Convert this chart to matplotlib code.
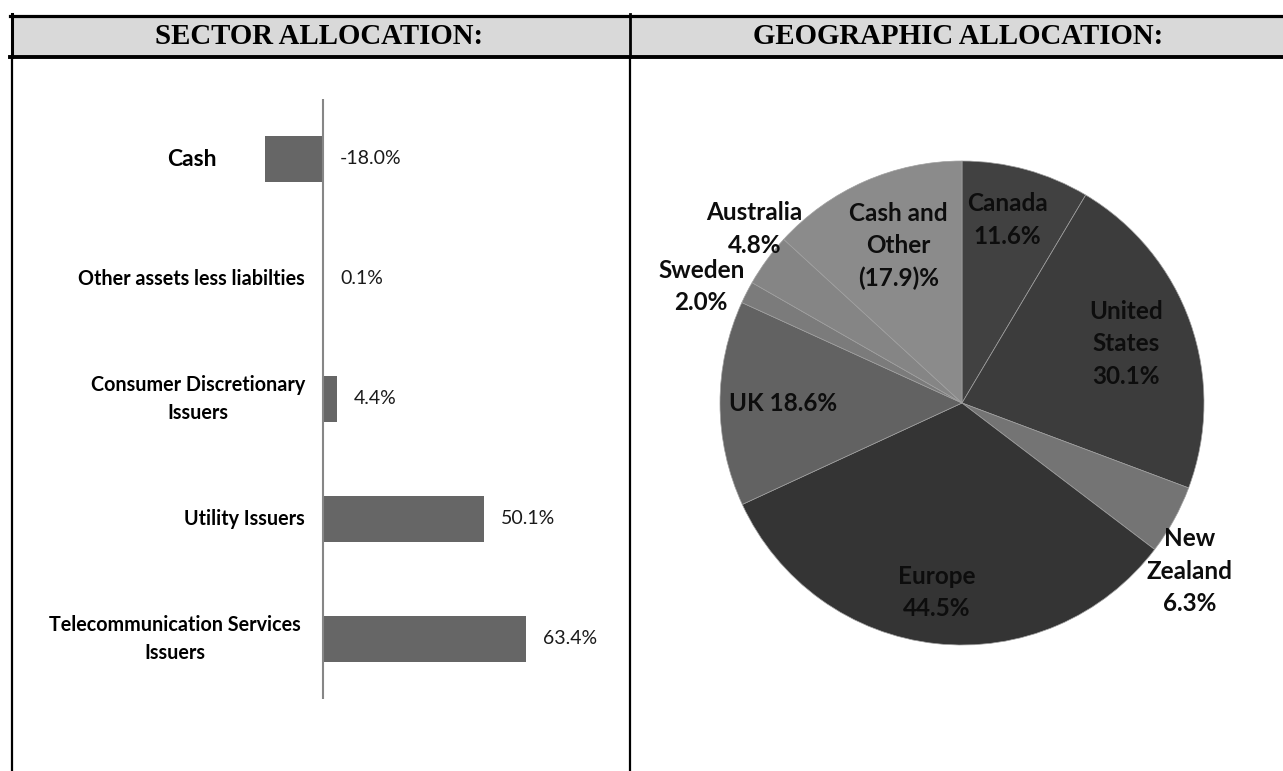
import numpy as np
import matplotlib.pyplot as plt
from matplotlib.patches import Rectangle
from matplotlib.transforms import blended_transform_factory

# sector allocation (bar chart)
sectors = ["Cash", "Other assets less liabilties", "Consumer Discretionary\nIssuers",
           "Utility Issuers", "Telecommunication Services\nIssuers"]
sector_vals = [-18.0, 0.1, 4.4, 50.1, 63.4]

# geographic allocation (pie)
regions = ["Canada", "United\nStates", "New\nZealand", "Europe", "UK",
           "Sweden", "Australia", "Cash and\nOther"]
region_vals = [11.6, 30.1, 6.3, 44.5, 18.6, 2.0, 4.8, -17.9]
region_colors = ["#414141", "#3c3c3c", "#747474", "#343434", "#626262",
                 "#7b7b7b", "#858585", "#8b8b8b"]

W, H = 1283, 771
fig = plt.figure(figsize=(W / 100, H / 100), dpi=100)
plt.rcParams['font.family'] = ['Lato', 'DejaVu Sans']

# table frame drawn in pixel coords
bg = fig.add_axes([0, 0, 1, 1], zorder=0)
bg.set_xlim(0, W)
bg.set_ylim(H, 0)
bg.axis('off')
bg.add_patch(Rectangle((11, 16), W, 40, facecolor='#d9d9d9', edgecolor='none'))
bg.plot([10, W], [15.5, 15.5], color='k', lw=2.3)
bg.plot([10, W], [57, 57], color='k', lw=2.8)
bg.plot([11.5, 11.5], [14, 57], color='k', lw=2.2)
bg.plot([630, 630], [14, 57], color='k', lw=2.0)
bg.plot([11.5, 11.5], [57, H], color='k', lw=1.6)
bg.plot([630, 630], [57, H], color='k', lw=1.6)
bg.text(319, 37, "SECTOR ALLOCATION:", ha='center', va='center',
        family='Liberation Serif', weight='bold', fontsize=20.8)
bg.text(958, 37, "GEOGRAPHIC ALLOCATION:", ha='center', va='center',
        family='Liberation Serif', weight='bold', fontsize=20.8)

# bar chart
x0, x1, zero, scale = 250, 600, 322.7, 3.21
ax = fig.add_axes([x0 / W, 72 / H, (x1 - x0) / W, 600 / H], zorder=1)
ax.patch.set_alpha(0)
y = np.arange(len(sectors))
ax.barh(y, sector_vals, height=0.39, color='#666666')
ax.set_xlim((x0 - zero) / scale, (x1 - zero) / scale)
ax.set_ylim(len(sectors) - 0.5, -0.5)
for s in ax.spines.values():
    s.set_visible(False)
ax.set_xticks([])
ax.set_yticks([])
ax.axvline(0, color='#868686', lw=1.5)

for i, v in enumerate(sector_vals):
    ax.annotate(f"{v:.1f}%", xy=(max(v, 0), i), xytext=(17, 0),
                textcoords='offset pixels', ha='left', va='center',
                fontsize=14, color='#1a1a1a')

tr = blended_transform_factory(ax.transAxes, ax.transData)
for i, lab in enumerate(sectors):
    if lab == "Cash":
        ax.text((192 - x0) / (x1 - x0), i, lab, transform=tr, ha='center',
                va='center', fontsize=16.5, weight='bold')
    else:
        xr = 301 if lab.startswith("Tele") else 305
        ax.text((xr - x0) / (x1 - x0), i, lab, transform=tr, ha='right',
                va='center', multialignment='center', fontsize=14.2,
                weight='bold', linespacing=1.5)

# pie chart
cx, cy, r = 962, 403, 242
pax = fig.add_axes([(cx - r) / W, (H - cy - r) / H, 2 * r / W, 2 * r / H], zorder=1)
wedges, _ = pax.pie(np.abs(region_vals), startangle=90, counterclock=False,
                    colors=region_colors, radius=1,
                    wedgeprops=dict(edgecolor='#a0a0a0', linewidth=0.5))
pax.set_xlim(-1, 1)
pax.set_ylim(-1, 1)

label_r = [0.78, 0.72, 1.17, 0.79, 0.74, 1.18, 1.12, 0.70]
label_da = [1.4, 0.6, -7.6, -1.3, 0, 3.1, -3.8, -1.7]
for w, name, v, lr, da in zip(wedges, regions, region_vals, label_r, label_da):
    pct = f"({abs(v):.1f})%" if v < 0 else f"{v:.1f}%"
    sep = " " if name == "UK" else "\n"
    ang = np.deg2rad((w.theta1 + w.theta2) / 2 + da)
    pax.text(lr * np.cos(ang), lr * np.sin(ang), name + sep + pct,
             ha='center', va='center', multialignment='center',
             fontsize=17.5, weight='bold', color='#0d0d0d', linespacing=1.5)

fig.savefig("out.png", dpi=100)
